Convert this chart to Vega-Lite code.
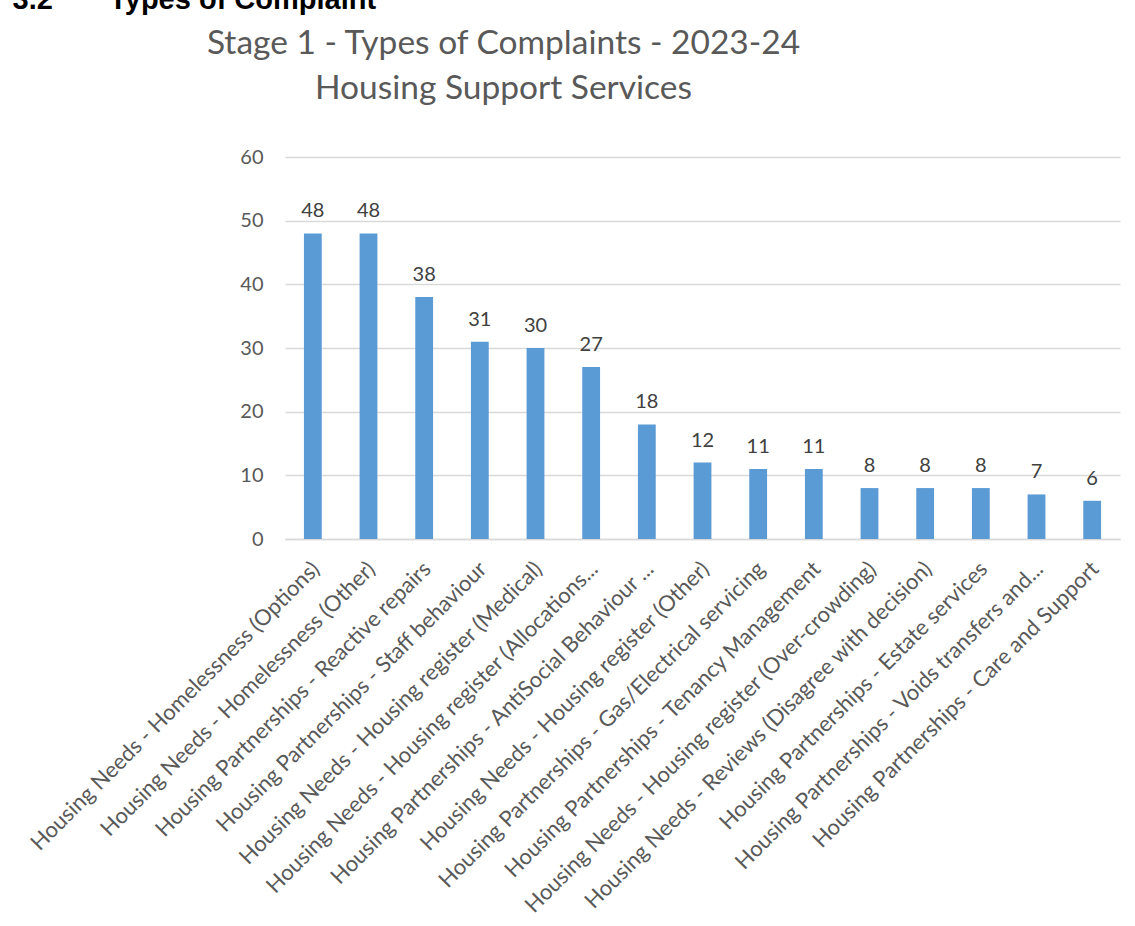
{
  "$schema": "https://vega.github.io/schema/vega-lite/v6.json",
  "autosize": "none",
  "width": 835,
  "height": 382,
  "padding": {"left": 285, "top": 157, "right": 15, "bottom": 387},
  "background": "white",
  "title": {
    "text": ["Stage 1 - Types of Complaints - 2023-24", "Housing Support Services"],
    "anchor": "middle",
    "frame": "group",
    "dx": -199,
    "offset": 0,
    "dy": 121,
    "font": "Lato",
    "fontSize": 33.5,
    "fontWeight": "normal",
    "color": "#595959",
    "lineHeight": 45
  },
  "data": {
    "values": [
      {"category": "Housing Needs - Homelessness (Options)", "count": 48},
      {"category": "Housing Needs - Homelessness (Other)", "count": 48},
      {"category": "Housing Partnerships - Reactive repairs", "count": 38},
      {"category": "Housing Partnerships - Staff behaviour", "count": 31},
      {"category": "Housing Needs - Housing register (Medical)", "count": 30},
      {"category": "Housing Needs - Housing register (Allocations...", "count": 27},
      {"category": "Housing Partnerships - AntiSocial Behaviour ...", "count": 18},
      {"category": "Housing Needs - Housing register (Other)", "count": 12},
      {"category": "Housing Partnerships - Gas/Electrical servicing", "count": 11},
      {"category": "Housing Partnerships - Tenancy Management", "count": 11},
      {"category": "Housing Needs - Housing register (Over-crowding)", "count": 8},
      {"category": "Housing Needs - Reviews (Disagree with decision)", "count": 8},
      {"category": "Housing Partnerships - Estate services", "count": 8},
      {"category": "Housing Partnerships - Voids transfers and...", "count": 7},
      {"category": "Housing Partnerships - Care and Support", "count": 6}
    ]
  },
  "encoding": {
    "x": {
      "field": "category",
      "type": "nominal",
      "sort": null,
      "scale": {"paddingInner": 0.68, "paddingOuter": 0.34},
      "axis": {
        "title": null,
        "labelAngle": -45,
        "labelAlign": "right",
        "labelBaseline": "top",
        "labelFont": "Lato",
        "labelFontSize": 22,
        "labelColor": "#595959",
        "labelLimit": 0,
        "labelPadding": 19,
        "labelOffset": -4,
        "ticks": false,
        "domainColor": "#d9d9d9",
        "domainWidth": 1.3
      }
    },
    "y": {
      "field": "count",
      "type": "quantitative",
      "scale": {"domain": [0, 60], "nice": false},
      "axis": {
        "values": [0, 10, 20, 30, 40, 50, 60],
        "title": "3.2\u00a0\u00a0\u00a0\u00a0\u00a0\u00a0\u00a0Types of Complaint",
        "titleAngle": 0,
        "titleX": -273,
        "titleY": -149,
        "titleAlign": "left",
        "titleBaseline": "alphabetic",
        "titleFont": "Liberation Sans",
        "titleFontWeight": "bold",
        "titleFontSize": 29,
        "titleColor": "#000000",
        "labelFont": "Lato",
        "labelFontSize": 20,
        "labelColor": "#595959",
        "labelPadding": 22,
        "ticks": false,
        "domain": false,
        "gridColor": "#d9d9d9",
        "gridWidth": 1.3
      }
    }
  },
  "layer": [
    {"mark": {"type": "bar", "color": "#5b9bd5"}},
    {
      "mark": {"type": "text", "font": "Lato", "fontSize": 20, "color": "#404040", "baseline": "alphabetic", "dy": -16},
      "encoding": {"text": {"field": "count", "type": "quantitative"}}
    }
  ],
  "config": {"view": {"stroke": null}}
}
